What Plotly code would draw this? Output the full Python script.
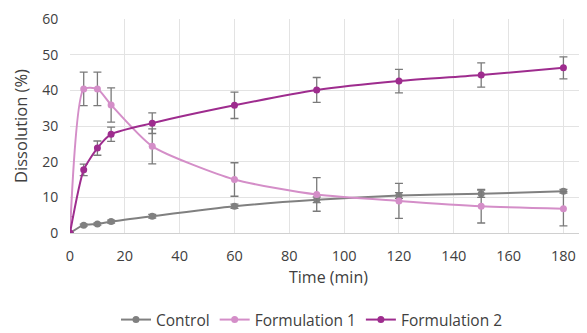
import plotly.graph_objects as go

time = [0, 5, 10, 15, 30, 60, 90, 120, 150, 180]
control = [0, 2.2, 2.5, 3.2, 4.7, 7.5, 9.3, 10.5, 11.0, 11.7]
control_err = [4.6, 0.3, 0.3, 0.4, 0.5, 0.6, 0.8, 0.8, 1.0, 0.5]
form1 = [0, 40.4, 40.4, 35.9, 24.3, 15.0, 10.8, 9.0, 7.5, 6.8]
form1_err = [0, 4.7, 4.7, 4.8, 4.9, 4.7, 4.7, 4.9, 4.7, 4.8]
form2 = [0, 17.7, 23.8, 27.7, 30.8, 35.8, 40.1, 42.6, 44.3, 46.3]
form2_err = [0, 1.6, 2.0, 2.0, 2.9, 3.7, 3.5, 3.3, 3.4, 3.1]
x_ticks = list(range(0, 181, 20))
y_ticks = list(range(0, 61, 10))

series = [
    ("Control", control, control_err, "#808080"),
    ("Formulation 1", form1, form1_err, "#d48ec8"),
    ("Formulation 2", form2, form2_err, "#9e2c8e"),
]

fig = go.Figure()
for name, vals, err, col in series:
    fig.add_trace(go.Scatter(
        x=time, y=vals, name=name, mode="lines+markers",
        line=dict(color=col, width=2, shape="spline", smoothing=0.6),
        marker=dict(color=col, size=7),
        error_y=dict(type="data", array=err, visible=True, color="#7a7a7a",
                     thickness=1.3, width=4),
    ))

# page body has an 8px margin, so the figure is sized/positioned to compensate
fig.update_layout(
    width=579, height=325,
    margin=dict(l=62, r=0, t=11, b=100, autoexpand=False),
    paper_bgcolor="white", plot_bgcolor="white",
    font=dict(family="Open Sans, sans-serif", size=14, color="#404040"),
    showlegend=True,
    legend=dict(orientation="h", xref="container", yref="container",
                x=0.525, xanchor="center", y=0.04, yanchor="middle",
                font=dict(size=15.5, color="#404040"), itemwidth=30, tracegroupgap=0),
    xaxis=dict(range=[0, 188.6], tickvals=x_ticks,
               showgrid=True, gridcolor="#e3e3e3", gridwidth=1,
               showline=True, linecolor="#d0d0d0", zeroline=False,
               ticks="outside", ticklen=10, tickcolor="rgba(0,0,0,0)",
               automargin=False, tickfont=dict(size=14.5)),
    yaxis=dict(range=[0, 60], tickvals=y_ticks,
               showgrid=True, gridcolor="#e3e3e3", gridwidth=1,
               zeroline=False, showline=False, automargin=False,
               ticks="outside", ticklen=8, tickcolor="rgba(0,0,0,0)",
               ticklabeloverflow="allow", tickfont=dict(size=14),
               title=dict(text="Dissolution (%)", font=dict(size=16.5), standoff=10)),
    annotations=[dict(text="Time (min)", xref="paper", yref="paper", x=0.5, y=-0.205,
                      xanchor="center", yanchor="middle", showarrow=False,
                      font=dict(size=16, color="#404040"))],
)

fig.write_html("out.html")
